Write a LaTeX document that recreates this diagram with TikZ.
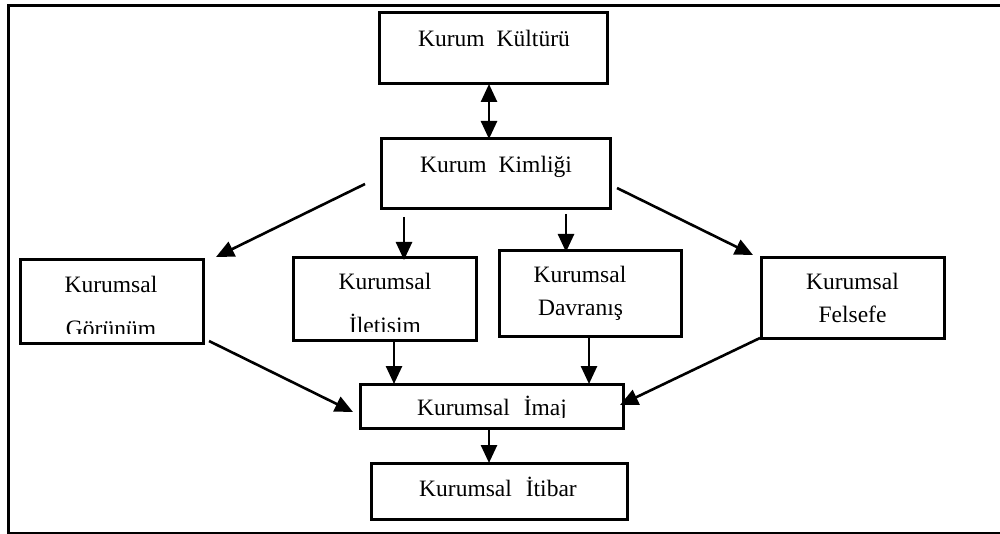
\documentclass[tikz,border=0pt]{standalone}
\usepackage{fontspec}
\setmainfont{Liberation Serif}
\usetikzlibrary{arrows.meta}
\begin{document}
\begin{tikzpicture}[x=1pt,y=-1pt,
  box/.style={draw=black,line width=3pt,rectangle,inner sep=0pt,outer sep=0pt,fill=none},
  lbl/.style={font=\fontsize{23.5}{28}\selectfont,anchor=base,inner sep=0pt},
  arr/.style={line width=2.6pt,-{Triangle[length=18pt,width=16pt]}},
  dbl/.style={line width=2.6pt,{Triangle[length=18pt,width=16pt]}-{Triangle[length=18pt,width=16pt]}}]
\useasboundingbox (0,0) rectangle (1000,534);
\fill[white] (0,0) rectangle (1000,534);
% outer frame (open at right, cut by page edge)
\draw[line width=3pt] (1010,6) -- (8,6) -- (8,533) -- (1010,533);

% boxes
\node[box,minimum width=228pt,minimum height=71pt] (kk)  at (493,48.5) {};
\node[box,minimum width=229pt,minimum height=70pt] (kim) at (495.5,174) {};
\node[box,minimum width=183pt,minimum height=83pt] (gor) at (111.5,301.5) {};
\node[box,minimum width=183pt,minimum height=82pt] (ile) at (384.5,299) {};
\node[box,minimum width=182pt,minimum height=85pt] (dav) at (590,293.5) {};
\node[box,minimum width=183pt,minimum height=80pt] (fel) at (852.5,298) {};
\node[box,minimum width=263pt,minimum height=44pt] (imaj) at (491.5,406) {};
\node[box,minimum width=256pt,minimum height=56pt] (itb) at (499,491) {};

% texts
\node[lbl] (tkk)  at (494,47) {Kurum\hspace{12pt}Kültürü};
\node[lbl] (tkim) at (496,173) {Kurum\hspace{12pt}Kimliği};
\node[lbl] (tgor1) at (111,292) {Kurumsal};
\begin{scope}
  \clip (20,260) rectangle (203,333);
  \node[lbl] (tgor2) at (111,336) {Görünüm};
\end{scope}
\node[lbl] (tile1) at (385,290) {Kurumsal};
\begin{scope}
  \clip (293,258) rectangle (476,331);
  \node[lbl] (tile2) at (385,333) {İletisim};
\end{scope}
\node[lbl] (tdav1) at (580,283) {Kurumsal};
\node[lbl] (tdav2) at (580.5,315) {Davranış};
\node[lbl] (tfel1) at (852.5,290) {Kurumsal};
\node[lbl] (tfel2) at (852.5,322) {Felsefe};
\begin{scope}
  \clip (360,384) rectangle (623,417);
  \node[lbl] (timaj) at (492,415) {Kurumsal\hspace{14pt}İmaj};
\end{scope}
\node[lbl] (titb) at (498,496) {Kurumsal\hspace{14pt}İtibar};

% helper coordinates
\coordinate (x489) at (489,0);
\coordinate (x404) at (404,0);
\coordinate (x566) at (566,0);
\coordinate (x394) at (394,0);
\coordinate (x589) at (589,0);
\coordinate (sGor) at (365,184);
\coordinate (eGor) at (216,257);
\coordinate (sFel) at (617,188);
\coordinate (eFel) at (753,255);
\coordinate (sIle) at (404,217);
\coordinate (sDav) at (566,214);
\coordinate (sG2) at (209,341);
\coordinate (eG2) at (353,412);
\coordinate (sF2) at (760,338);
\coordinate (eF2) at (620,405);

% connectors
\draw[dbl] (kk.south -| x489) -- (kim.north -| x489);
\draw[arr] (sGor) -- (eGor);
\draw[arr] (sIle) -- ([yshift=-2pt]ile.north -| x404);
\draw[arr] (sDav) -- ([yshift=-1pt]dav.north -| x566);
\draw[arr] (sFel) -- (eFel);
\draw[arr] (ile.south -| x394) -- (imaj.north -| x394);
\draw[arr] (dav.south -| x589) -- (imaj.north -| x589);
\draw[arr] (sG2) -- (eG2);
\draw[arr] (sF2) -- (eF2);
\draw[arr] (imaj.south -| x489) -- (itb.north -| x489);
\end{tikzpicture}
\end{document}
